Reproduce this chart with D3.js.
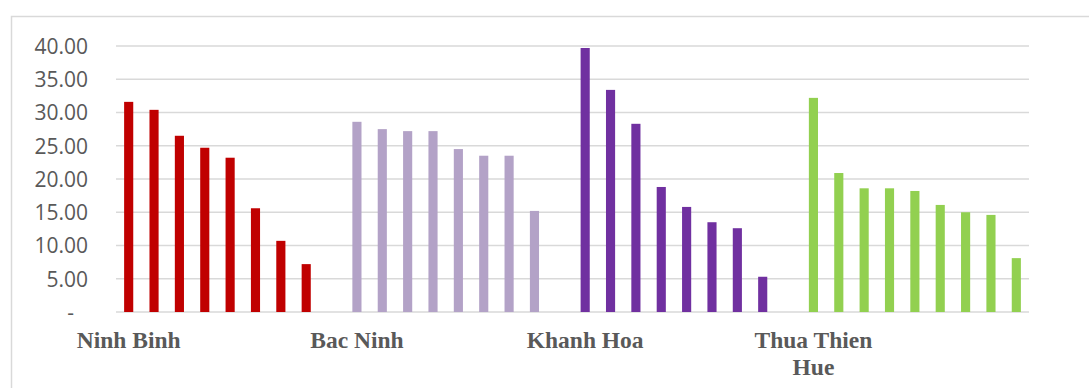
<!DOCTYPE html>
<html>
<head>
<meta charset="utf-8">
<script src="https://cdn.jsdelivr.net/npm/d3@7"></script>
<style>
  html, body { margin: 0; padding: 0; background: #fff; }
  svg { display: block; }
  .y-axis text { font-family: "Open Sans", sans-serif; font-size: 21px; fill: #595959; }
  .cat-label { font-family: "Liberation Serif", serif; font-weight: bold; font-size: 23.5px; fill: #595959; }
</style>
</head>
<body>
<div id="chart"></div>
<script>
// --- Data ---
const provinces = ["Ninh Binh", "Bac Ninh", "Khanh Hoa", "Thua Thien Hue"];
const ninhBinh = [31.6, 30.4, 26.5, 24.7, 23.2, 15.6, 10.7, 7.2];
const bacNinh = [28.6, 27.5, 27.2, 27.2, 24.5, 23.5, 23.5, 15.2];
const khanhHoa = [39.7, 33.4, 28.3, 18.8, 15.8, 13.5, 12.6, 5.3];
const thuaThienHue = [32.2, 20.9, 18.6, 18.6, 18.2, 16.1, 15.0, 14.6, 8.1];
const seriesValues = [ninhBinh, bacNinh, khanhHoa, thuaThienHue];
const colors = ["#C00000", "#B3A2C7", "#7030A0", "#92D050"];
const slotsPerProvince = 9;
const yTicks = [0, 5, 10, 15, 20, 25, 30, 35, 40];

const W = 1089, H = 388;
const margin = {top: 46, right: 60, bottom: 76, left: 116};
const width = W - margin.left - margin.right;
const height = H - margin.top - margin.bottom;

// flatten into slot list (each province has 9 slots, unused slots empty)
const slots = [];
provinces.forEach((p, i) => {
  for (let k = 0; k < slotsPerProvince; k++) {
    slots.push({
      id: p + "-" + k,
      province: p,
      idx: i,
      first: k === 0,
      value: k < seriesValues[i].length ? seriesValues[i][k] : null
    });
  }
});

const svg = d3.select("#chart").append("svg")
    .attr("width", W)
    .attr("height", H);

// chart area border (extends past window on right/bottom)
svg.append("rect")
    .attr("x", 11.5).attr("y", 16.5)
    .attr("width", W + 20).attr("height", H + 20)
    .attr("fill", "none")
    .attr("stroke", "#d9d9d9")
    .attr("stroke-width", 1.5);

const g = svg.append("g").attr("transform", `translate(${margin.left},${margin.top})`);

const x = d3.scaleBand()
    .domain(slots.map(d => d.id))
    .range([0, width])
    .paddingInner(0.64)
    .paddingOuter(0.32);

const y = d3.scaleLinear()
    .domain([0, 40])
    .range([height, 0]);

// gridlines
g.append("g")
  .selectAll("line")
  .data(yTicks)
  .join("line")
    .attr("x1", 0).attr("x2", width)
    .attr("y1", d => y(d)).attr("y2", d => y(d))
    .attr("stroke", "#d9d9d9")
    .attr("stroke-width", 1.5);

// y axis labels
const yAxis = d3.axisLeft(y)
    .tickValues(yTicks)
    .tickSize(0)
    .tickPadding(28)
    .tickFormat(d => d === 0 ? "-" : d3.format(".2f")(d));
g.append("g").attr("class", "y-axis").call(yAxis)
  .call(a => a.select(".domain").remove())
  .selectAll("text")
    .attr("dy", "0.35em")
    .attr("dx", d => d === 0 ? -14 : 0);

// bars
g.append("g")
  .selectAll("rect")
  .data(slots.filter(d => d.value !== null))
  .join("rect")
    .attr("x", d => x(d.id))
    .attr("width", x.bandwidth())
    .attr("y", d => y(d.value))
    .attr("height", d => y(0) - y(d.value))
    .attr("fill", d => colors[d.idx]);

// category labels, centered on the first slot of each province, wrapped
const maxLabelWidth = 140;
const labels = g.append("g")
  .selectAll("text")
  .data(slots.filter(d => d.first))
  .join("text")
    .attr("class", "cat-label")
    .attr("text-anchor", "middle")
    .attr("x", d => x(d.id) + x.bandwidth() / 2)
    .attr("y", height + 36);

labels.each(function(d) {
  const text = d3.select(this);
  const words = d.province.split(" ");
  let line = [];
  let tspan = text.append("tspan").attr("x", text.attr("x")).attr("dy", 0);
  words.forEach(w => {
    line.push(w);
    tspan.text(line.join(" "));
    if (tspan.node().getComputedTextLength() > maxLabelWidth && line.length > 1) {
      line.pop();
      tspan.text(line.join(" "));
      line = [w];
      tspan = text.append("tspan").attr("x", text.attr("x")).attr("dy", 27).text(w);
    }
  });
});
</script>
</body>
</html>
